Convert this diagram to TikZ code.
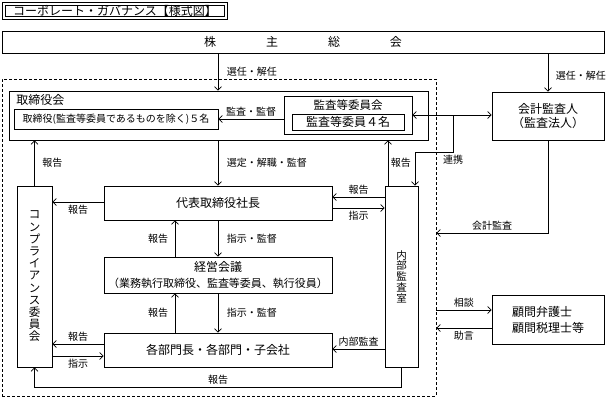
\documentclass[tikz,border=0pt]{standalone}
\usepackage{fontspec}
\setmainfont{Noto Sans CJK JP}
\usetikzlibrary{arrows.meta}
\newcommand{\fsz}[1]{\fontsize{#1}{#1}\selectfont}

\begin{document}
\begin{tikzpicture}[x=1pt,y=-1pt,line width=0.7pt,
    >={Straight Barb[length=3.5pt,width=7pt]},
    box/.style={draw, line width=0.8pt, inner sep=0pt, align=center, font=\fsz{12}},
    lbl/.style={font=\fsz{10}, inner sep=2.5pt}]
    \useasboundingbox (0,0) rectangle (606,400);

    \node[box, double, double distance=1.6pt, minimum width=222pt, minimum height=14pt] (ttl) at (115,11) {コーポレート・ガバナンス【様式図】};
    \node[box, minimum width=602pt, minimum height=22pt] (gm) at (303,42) {株\hspace{50pt}主\hspace{50pt}総\hspace{50pt}会};

    \node[draw, dash pattern=on 3pt off 2pt, minimum width=434pt, minimum height=317pt] (grp) at (219,237.5) {};

    \node[box, minimum width=419pt, minimum height=49pt] (board) at (218.5,115.5) {};
    \node[font=\fsz{12}, anchor=west, inner sep=0pt] (boardt) at (16,100) {取締役会};
    \node[box, minimum width=204pt, minimum height=20pt, font=\fsz{10}] (dirs) at (116,119) {取締役(監査等委員であるものを除く)５名};
    \node[box, minimum width=128pt, minimum height=38pt] (ac) at (348,115) {};
    \node[font=\fsz{11.5}, inner sep=0pt] (act) at (348,105) {監査等委員会};
    \node[box, minimum width=112pt, minimum height=16pt] (acm) at (348,122) {監査等委員４名};

    \node[box, minimum width=112pt, minimum height=48pt, font=\fontsize{12}{14}\selectfont] (aud) at (548,116) {会計監査人\\（監査法人）};

    \node[box, minimum width=228pt, minimum height=34pt] (pres) at (218,203) {代表取締役社長};
    \node[box, minimum width=228pt, minimum height=36pt, font=\fontsize{12}{16.5}\selectfont] (mtg) at (218,275) {経営会議\\{\fontsize{11}{16.5}\selectfont（業務執行取締役、監査等委員、執行役員）}};
    \node[box, minimum width=228pt, minimum height=34pt] (dept) at (218,350) {各部門長・各部門・子会社};

    \node[box, minimum width=35pt, minimum height=181pt, font=\fontsize{11.5}{12.2}\selectfont] (comp) at (34.5,276.5) {コ\\ン\\プ\\ラ\\イ\\ア\\ン\\ス\\委\\員\\会};
    \node[box, minimum width=33pt, minimum height=181pt, font=\fontsize{10.5}{10.8}\selectfont] (ia) at (401.5,276.5) {内\\部\\監\\査\\室};

    \node[box, minimum width=112pt, minimum height=49pt, align=left, font=\fontsize{12}{16}\selectfont] (adv) at (548,319.5) {顧問弁護士\\顧問税理士等};

    % shareholders
    \draw[->] (gm.south -| pres.north) -- (board.north -| pres.north)
        node[lbl, midway, right, xshift=6pt] {選任・解任};
    \draw[->] (gm.south -| aud.north) -- (aud.north)
        node[lbl, midway, right, xshift=5pt, yshift=-3pt] {選任・解任};

    % board
    \draw[->] (ac.west |- dirs.east) -- (dirs.east) node[lbl, midway, above] {監査・監督};
    \draw[<->] (ac.east) -- (aud.west |- ac.east);
    \coordinate (lk) at (ac.east -| 453,0);
    \draw[->] (lk) -- ++(0,37) node[lbl, below] {連携} -| (ia.north -| 415,0);
    \draw[->] (ia.north -| 388,0) -- (board.south -| 388,0) node[lbl, midway, right] {報告};
    \draw[->] (board.south -| pres.north) -- (pres.north)
        node[lbl, midway, right, xshift=6pt] {選定・解職・監督};
    \draw[->] (comp.north) -- (comp.north |- board.south) node[lbl, midway, right, xshift=5pt] {報告};

    % president
    \draw[->] (ia.west |- 0,197) -- (pres.east |- 0,197) node[lbl, midway, above] {報告};
    \draw[->] (pres.east |- 0,208) -- (ia.west |- 0,208) node[lbl, midway, below] {指示};
    \draw[->] (pres.west |- 0,202) -- (comp.east |- 0,202) node[lbl, midway, below] {報告};
    \draw[->] (pres.south) -- (mtg.north) node[lbl, midway, right, xshift=6pt] {指示・監督};
    \draw[->] (mtg.north -| 175,0) -- (pres.south -| 175,0) node[lbl, midway, left, xshift=-4pt] {報告};

    % departments
    \draw[->] (mtg.south) -- (dept.north) node[lbl, midway, right, xshift=6pt] {指示・監督};
    \draw[->] (dept.north -| 175,0) -- (mtg.south -| 175,0) node[lbl, midway, left, xshift=-4pt] {報告};
    \draw[->] (dept.west |- 0,344) -- (comp.east |- 0,344) node[lbl, midway, above] {報告};
    \draw[->] (comp.east |- 0,356) -- (dept.west |- 0,356) node[lbl, midway, below] {指示};
    \draw[->] (ia.west |- 0,349) -- (dept.east |- 0,349) node[lbl, midway, above] {内部監査};
    \draw[->] (ia.south) -- ++(0,20) -| (comp.south) node[lbl, pos=0.25, above] {報告};

    % outside
    \draw[->] (aud.south) |- (grp.east |- 0,233) node[lbl, pos=0.75, above] {会計監査};
    \draw[->] (grp.east |- 0,310) -- (adv.west |- 0,310) node[lbl, midway, above] {相談};
    \draw[->] (adv.west |- 0,328) -- (grp.east |- 0,328) node[lbl, midway, below] {助言};
\end{tikzpicture}
\end{document}
